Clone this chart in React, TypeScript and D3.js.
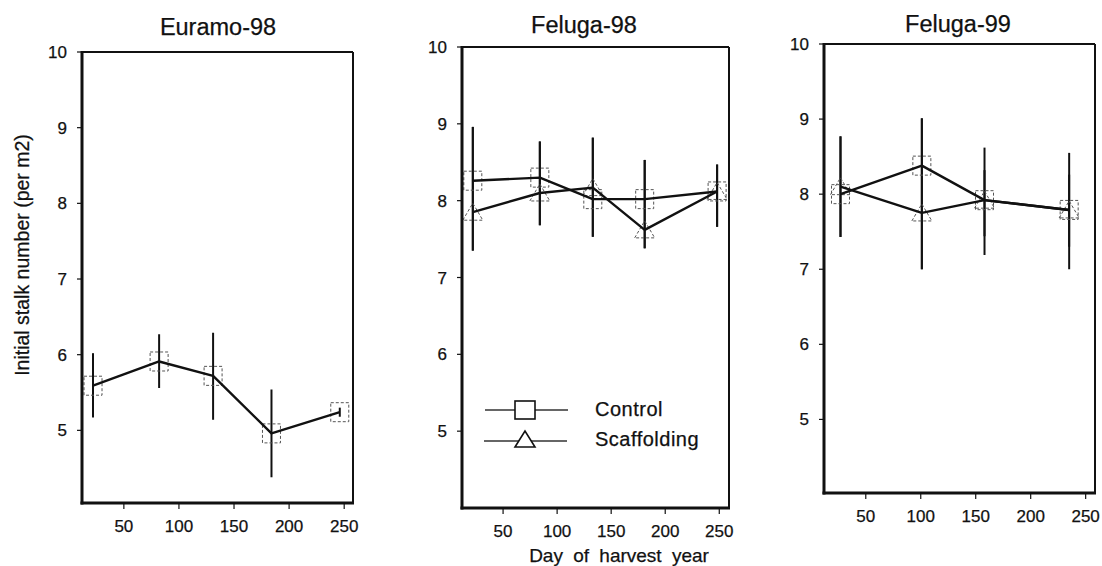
import React from "react";
import * as d3 from "d3";

// ---------- data ----------
const xTicks = [50, 100, 150, 200, 250];
const yTicks = [5, 6, 7, 8, 9, 10];

// Euramo-98 (control only)
const euramoDays = [22, 82, 131, 184, 246];
const euramoControl = [5.59, 5.91, 5.72, 4.96, 5.24];
const euramoControlLo = [5.17, 5.56, 5.14, 4.38, 5.18];
const euramoControlHi = [6.02, 6.27, 6.29, 5.54, 5.30];

// Feluga-98
const feluga98Days = [22, 84, 133, 181, 248];
const feluga98Control = [8.26, 8.30, 8.02, 8.02, 8.12];
const feluga98ControlLo = [7.35, 7.68, 7.53, 7.38, 7.66];
const feluga98ControlHi = [8.96, 8.77, 8.82, 8.53, 8.47];
const feluga98Scaff = [7.85, 8.10, 8.17, 7.62, 8.12];
const feluga98ScaffLo = [7.35, 7.68, 7.53, 7.38, 7.66];
const feluga98ScaffHi = [8.96, 8.77, 8.82, 8.53, 8.47];

// Feluga-99
const feluga99Days = [27, 101, 158, 235];
const feluga99Control = [8.0, 8.38, 7.92, 7.79];
const feluga99ControlLo = [7.43, 7.0, 7.19, 7.0];
const feluga99ControlHi = [8.77, 9.01, 8.62, 8.55];
const feluga99Scaff = [8.1, 7.75, 7.92, 7.79];
const feluga99ScaffLo = [7.43, 7.0, 7.44, 7.3];
const feluga99ScaffHi = [8.77, 9.01, 8.32, 8.26];

const titles = ["Euramo-98", "Feluga-98", "Feluga-99"];
const legendLabels = ["Control", "Scaffolding"];
const yLabel = "Initial stalk number (per m2)";
const xLabel = "Day of harvest year";

type Series = { kind: "square" | "triangle"; y: number[]; lo: number[]; hi: number[] };

const FONT = "Arial, 'Liberation Sans', Helvetica, sans-serif";
const TXT = { fontFamily: FONT, fill: "#111", stroke: "#111", strokeWidth: 0.25 };

function Marker({ kind, x, y, dashed }: { kind: string; x: number; y: number; dashed: boolean }) {
  const stroke = dashed ? "#555" : "#111";
  const dash = dashed ? "3,2" : undefined;
  const sw = dashed ? 1 : 1.6;
  if (kind === "square") {
    return <rect x={x - 9} y={y - 9.5} width={18} height={19} fill="none" stroke={stroke} strokeWidth={sw} strokeDasharray={dash} />;
  }
  const p = `M${x - 10},${y + 8} L${x},${y - 9} L${x + 10},${y + 8} Z`;
  return <path d={p} fill="none" stroke={stroke} strokeWidth={sw} strokeDasharray={dash} />;
}

function Panel({ box, xDom, yDom, title, titleX, titleY, days, series }: any) {
  const [l, t, r, b] = box;
  const x = d3.scaleLinear().domain(xDom).range([l, r]);
  const y = d3.scaleLinear().domain(yDom).range([b, t]);
  const line = d3.line<[number, number]>().x((d) => x(d[0])).y((d) => y(d[1]));
  return (
    <g>
      <text x={titleX} y={titleY} textAnchor="middle" fontSize={23.5} {...TXT}>{title}</text>
      {series.map((s: Series, si: number) => (
        <g key={"e" + si}>
          {days.map((d: number, i: number) => (
            <line key={i} x1={x(d)} x2={x(d)} y1={y(s.lo[i])} y2={y(s.hi[i])} stroke="#111" strokeWidth={2} />
          ))}
        </g>
      ))}
      {series.map((s: Series, si: number) => (
        <g key={"m" + si}>
          {days.map((d: number, i: number) => (
            <Marker key={i} kind={s.kind} x={x(d)} y={y(s.y[i])} dashed={true} />
          ))}
        </g>
      ))}
      {series.map((s: Series, si: number) => (
        <path key={"l" + si} d={line(days.map((d: number, i: number) => [d, s.y[i]]) as [number, number][]) || ""} fill="none" stroke="#111" strokeWidth={2.4} strokeLinejoin="round" />
      ))}
      {/* frame */}
      <line x1={l} x2={r} y1={t} y2={t} stroke="#111" strokeWidth={2} />
      <line x1={r} x2={r} y1={t} y2={b} stroke="#111" strokeWidth={2} />
      <line x1={l} x2={l} y1={t - 1} y2={b + 1.5} stroke="#111" strokeWidth={3} />
      <line x1={l - 1.5} x2={r + 1} y1={b} y2={b} stroke="#111" strokeWidth={3} />
      {yTicks.map((v) => (
        <g key={"y" + v}>
          <line x1={l - 5} x2={l} y1={y(v)} y2={y(v)} stroke="#111" strokeWidth={1.2} />
          <text x={l - 15} y={y(v) + 6} textAnchor="end" fontSize={17} {...TXT}>{v}</text>
        </g>
      ))}
      {xTicks.map((v) => (
        <g key={"x" + v}>
          <line x1={x(v)} x2={x(v)} y1={b} y2={b + 6} stroke="#111" strokeWidth={1.2} />
          <text x={x(v)} y={b + 29} textAnchor="middle" fontSize={17} {...TXT}>{v}</text>
        </g>
      ))}
    </g>
  );
}

export default function App() {
  return (
    <svg width={1102} height={566} style={{ position: "absolute", left: 0, top: 0, background: "#fff" }}>
      <rect x={0} y={0} width={1102} height={566} fill="#fff" />
      <Panel
        box={[82, 52, 353, 503]}
        xDom={[12, 258]}
        yDom={[4.04, 10]}
        title={titles[0]}
        titleX={218}
        titleY={35}
        days={euramoDays}
        series={[{ kind: "square", y: euramoControl, lo: euramoControlLo, hi: euramoControlHi }]}
      />
      <Panel
        box={[462, 47, 729, 508]}
        xDom={[12, 259]}
        yDom={[4, 10]}
        title={titles[1]}
        titleX={584}
        titleY={33}
        days={feluga98Days}
        series={[
          { kind: "square", y: feluga98Control, lo: feluga98ControlLo, hi: feluga98ControlHi },
          { kind: "triangle", y: feluga98Scaff, lo: feluga98ScaffLo, hi: feluga98ScaffHi },
        ]}
      />
      <Panel
        box={[824, 44, 1095, 493]}
        xDom={[12, 258.5]}
        yDom={[4.02, 10]}
        title={titles[2]}
        titleX={958}
        titleY={32}
        days={feluga99Days}
        series={[
          { kind: "square", y: feluga99Control, lo: feluga99ControlLo, hi: feluga99ControlHi },
          { kind: "triangle", y: feluga99Scaff, lo: feluga99ScaffLo, hi: feluga99ScaffHi },
        ]}
      />
      {/* legend */}
      <g>
        <line x1={485} x2={568} y1={410} y2={410} stroke="#333" strokeWidth={1.5} />
        <rect x={515} y={401} width={20} height={18} fill="#fff" stroke="#111" strokeWidth={1.6} />
        <text x={595} y={416} fontSize={20} letterSpacing={0.5} {...TXT}>{legendLabels[0]}</text>
        <line x1={484} x2={567} y1={441} y2={441} stroke="#333" strokeWidth={1.5} />
        <path d="M515,447 L525,431 L535,447 Z" fill="#fff" stroke="#111" strokeWidth={1.6} />
        <text x={595} y={446} fontSize={20} letterSpacing={0.5} {...TXT}>{legendLabels[1]}</text>
      </g>
      <text x={619} y={562} textAnchor="middle" fontSize={19} wordSpacing={5} {...TXT}>{xLabel}</text>
      <text transform="translate(29,255) rotate(-90)" textAnchor="middle" fontSize={19.5} {...TXT}>{yLabel}</text>
    </svg>
  );
}
